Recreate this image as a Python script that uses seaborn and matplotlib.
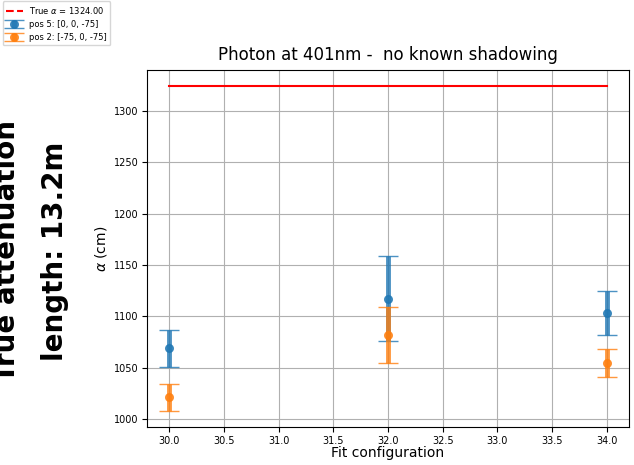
import matplotlib
matplotlib.use("Agg")
import matplotlib.pyplot as plt
from matplotlib.lines import Line2D
import seaborn as sns
import pandas as pd

# ---- data ----
fit_config = [30.0, 32.0, 34.0]
pos5_alpha = [1069.0, 1117.4, 1103.2]
pos5_err = [18.3, 41.6, 21.3]
pos2_alpha = [1021.3, 1082.0, 1054.5]
pos2_err = [12.8, 27.0, 13.5]
true_alpha = 1324.00
true_x = [30.0, 34.0]

series_labels = ["pos 5: [0, 0, -75]", "pos 2: [-75, 0, -75]"]
title = "Photon at 401nm -  no known shadowing"
side_text = "True attenuation\nlength: 13.2m"

fig = plt.figure(figsize=(6.34, 4.65), dpi=100)
ax = fig.add_axes([0.2323, 0.0811, 0.7593, 0.7684])

true_df = pd.DataFrame({"x": true_x, "y": [true_alpha] * len(true_x)})
sns.lineplot(data=true_df, x="x", y="y", ax=ax, color="red", lw=1.5, zorder=3)

colors = ["#1f77b4", "#ff7f0e"]
for vals, errs, lab, c in zip([pos5_alpha, pos2_alpha], [pos5_err, pos2_err],
                              series_labels, colors):
    ax.errorbar(fit_config, vals, yerr=errs, fmt="o", color=c, ms=5.5,
                elinewidth=3.5, capsize=7, capthick=1, alpha=0.8,
                label=lab, zorder=4)

ax.grid(True, color="#b0b0b0", lw=0.8)
ax.set_axisbelow(True)
ax.set_xlabel("Fit configuration", fontsize=10, labelpad=0)
ax.set_ylabel(r"$\alpha$ (cm)", fontsize=10)
ax.set_title(title, fontsize=12, pad=7)
ax.tick_params(labelsize=7, pad=2.5)
ax.set_xticks([30.0, 30.5, 31.0, 31.5, 32.0, 32.5, 33.0, 33.5, 34.0])
ax.set_yticks([1000, 1050, 1100, 1150, 1200, 1250, 1300])
ax.set_xlim(29.8, 34.2)
ax.set_ylim(992.2, 1339.8)

handles, labels = ax.get_legend_handles_labels()
red_handle = Line2D([], [], color="red", ls="--", lw=1.5)
fig.legend([red_handle] + handles,
           [r"True $\alpha$ = %.2f" % true_alpha] + labels,
           loc="upper left", bbox_to_anchor=(0.002, 1.0), fontsize=6,
           borderaxespad=0.15)

fig.text(0.0486, 0.46, side_text, rotation=90, ha="center", va="center",
         fontsize=20, fontweight="bold", linespacing=1.9)

fig.savefig("out.png", dpi=100)
